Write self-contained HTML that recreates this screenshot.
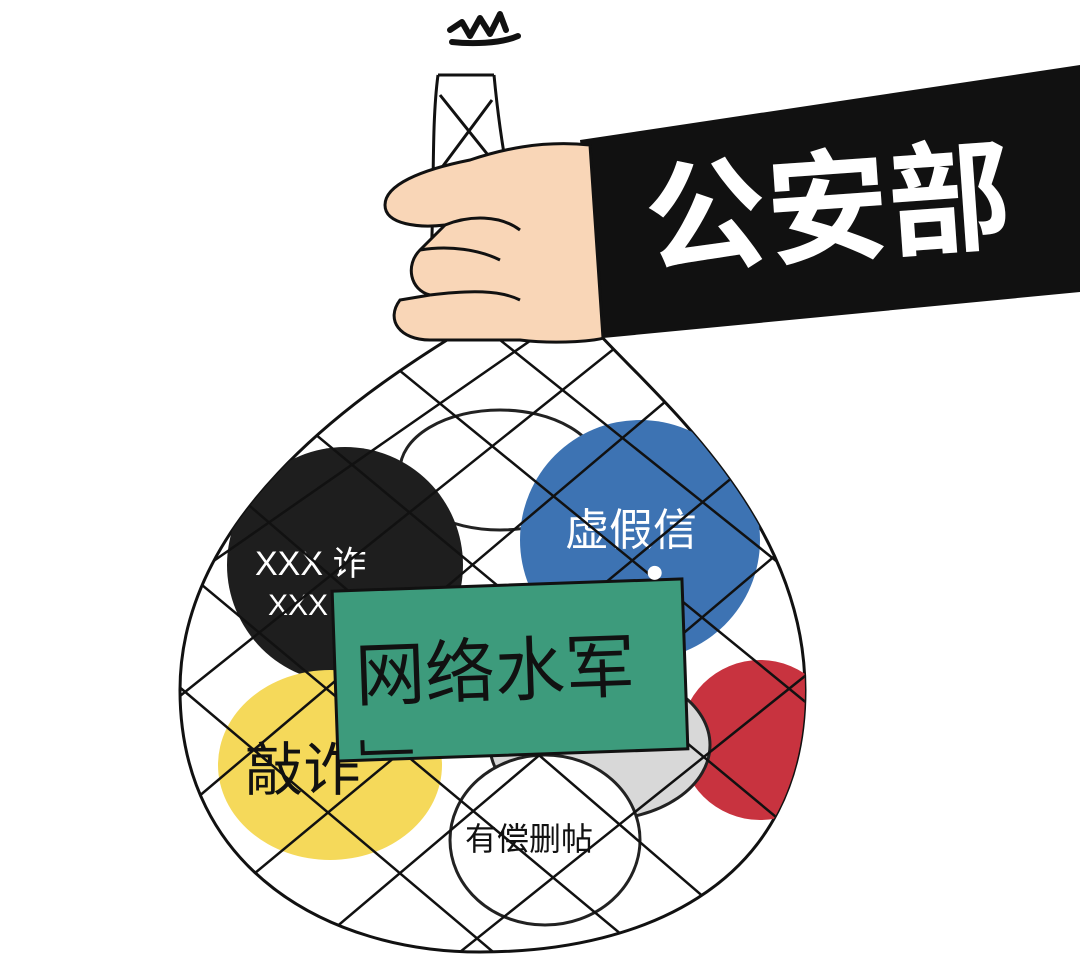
<!DOCTYPE html>
<html><head><meta charset="utf-8"><style>
html,body{margin:0;padding:0;background:#fff;}
svg{display:block;}
text{font-family:"Liberation Sans","Noto Sans CJK SC","WenQuanYi Zen Hei",sans-serif;}
</style></head><body>
<svg width="1080" height="977" viewBox="0 0 1080 977">
<defs>
<clipPath id="bagclip"><path d="M455,335 C350,400 180,520 180,690 C180,870 330,952 480,952 C650,952 805,880 805,690 C805,520 660,400 600,335 Z"/></clipPath>
</defs>
<rect width="1080" height="977" fill="#fff"/>
<path d="M450,30 L462,22 L470,36 L480,18 L490,34 L500,14 L506,30 M452,42 C470,44 500,44 518,36" fill="none" stroke="#111" stroke-width="6" stroke-linecap="round" stroke-linejoin="round"/>
<g fill="none" stroke="#111" stroke-width="3">
<path d="M438,75 C428,150 440,260 420,340"/>
<path d="M494,75 C502,160 520,260 560,340"/>
<path d="M438,75 L494,75"/>
<path d="M440,95 L492,160 M492,100 L440,170 M440,175 L500,250 M505,180 L435,260 M440,270 L520,320"/>
</g>
<path d="M455,335 C350,400 180,520 180,690 C180,870 330,952 480,952 C650,952 805,880 805,690 C805,520 660,400 600,335 Z" fill="#fff" stroke="#111" stroke-width="3"/>
<g clip-path="url(#bagclip)">
<ellipse cx="500" cy="470" rx="100" ry="60" fill="#fff" stroke="#222" stroke-width="3"/>
<circle cx="345" cy="565" r="118" fill="#1e1e1e"/>
<text x="255" y="575" fill="#fff" font-size="34">XXX 诈</text>
<text x="268" y="615" fill="#fff" font-size="30">XXX</text>
<circle cx="640" cy="540" r="120" fill="#3d73b3"/>
<text x="565" y="545" fill="#fff" font-size="44">虚假信</text>
<circle cx="760" cy="740" r="80" fill="#c8333f"/>
<ellipse cx="600" cy="745" rx="110" ry="75" fill="#d8d8d8" stroke="#222" stroke-width="3"/>
<ellipse cx="330" cy="765" rx="112" ry="95" fill="#f5d95a"/>
<text x="245" y="790" fill="#111" font-size="58">敲诈</text>
<ellipse cx="545" cy="840" rx="95" ry="85" fill="#fff" stroke="#222" stroke-width="3"/>
<text x="465" y="850" fill="#111" font-size="32">有偿删帖</text>
<g stroke="#111" stroke-width="2.5">
<line x1="100" y1="500" x2="700" y2="1000"/><line x1="150" y1="420" x2="800" y2="980"/>
<line x1="250" y1="380" x2="900" y2="920"/><line x1="350" y1="330" x2="950" y2="820"/>
<line x1="450" y1="300" x2="950" y2="700"/><line x1="100" y1="620" x2="550" y2="1000"/>
<line x1="100" y1="760" x2="400" y2="1000"/>
<line x1="900" y1="450" x2="250" y2="1000"/><line x1="850" y1="380" x2="150" y2="960"/>
<line x1="750" y1="330" x2="100" y2="880"/><line x1="650" y1="320" x2="100" y2="760"/>
<line x1="560" y1="320" x2="100" y2="640"/><line x1="950" y1="560" x2="400" y2="1000"/>
<line x1="950" y1="700" x2="600" y2="1000"/>
</g>
</g>
<g transform="rotate(-2 510 670)">
<rect x="335" y="585" width="350" height="170" fill="#3d9b7c" stroke="#111" stroke-width="3"/>
<circle cx="658" cy="578" r="7" fill="#fff"/>
<text x="355" y="695" fill="#111" font-size="70">网络水军</text>
<path d="M360,735 L360,748 L410,748" fill="none" stroke="#111" stroke-width="4"/>
</g>
<path d="M580,140 L1080,65 L1080,292 L603,338 Z" fill="#111"/>
<text x="648" y="264" fill="#fff" font-size="122" font-weight="bold" transform="rotate(-4 648 264)">公安部</text>
<g fill="#f9d6b7" stroke="#111" stroke-width="3">
<path d="M590,145 C540,140 500,150 470,160 C420,170 385,185 385,205 C385,225 420,228 445,225 L420,250 C405,265 410,290 430,295 L400,300 C385,320 400,340 430,340 L520,340 C560,345 600,340 603,338 Z"/>
<path d="M445,225 C470,215 500,215 520,230" fill="none"/>
<path d="M430,295 C470,290 500,290 520,300" fill="none"/>
<path d="M420,250 C450,245 480,250 500,260" fill="none"/>
</g>
</svg>
</body></html>
